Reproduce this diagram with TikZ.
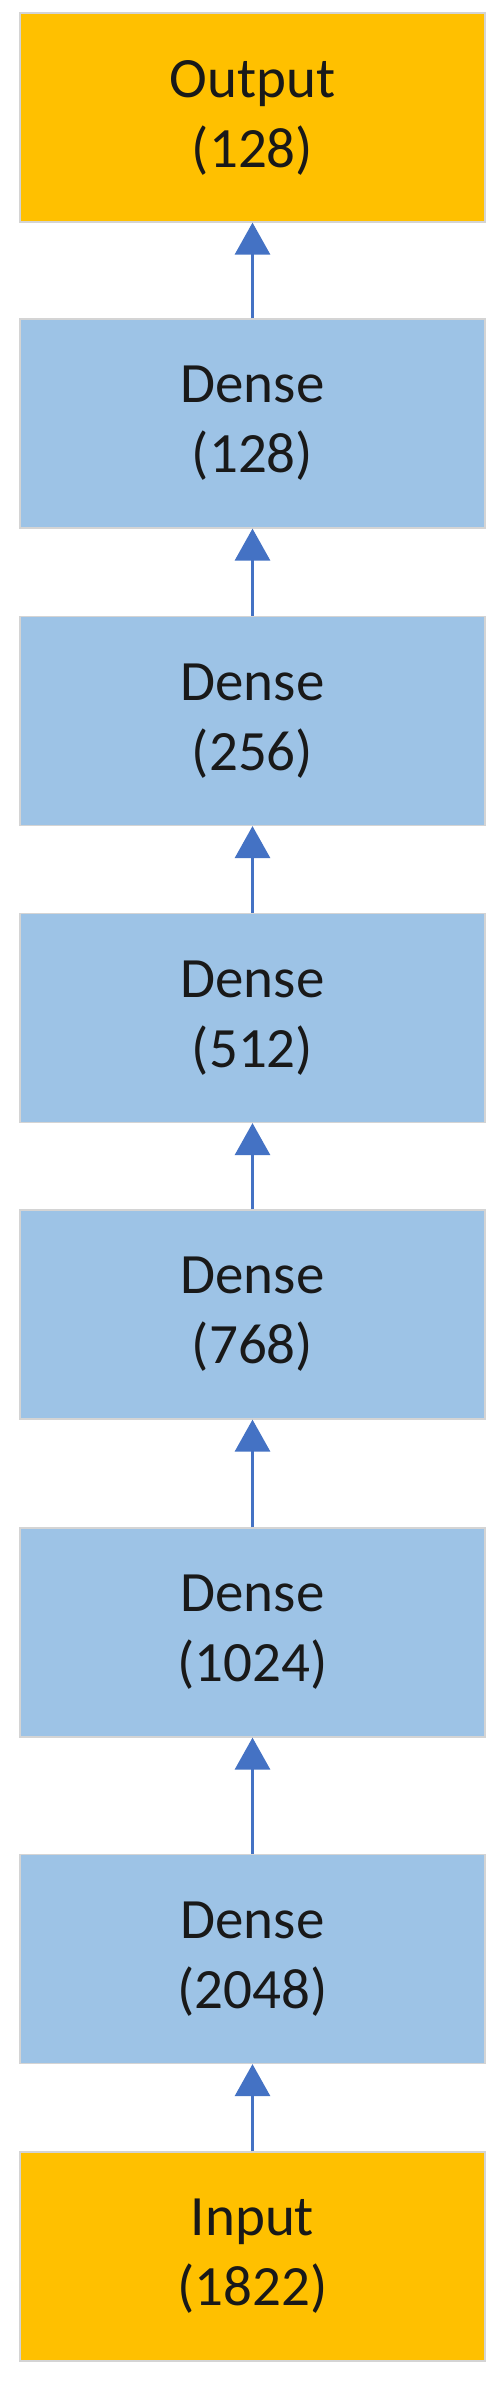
\documentclass[tikz,border=0pt]{standalone}
\usepackage{fontspec}
\setmainfont{Carlito}
\usetikzlibrary{arrows.meta}
\definecolor{gold}{HTML}{FFC000}
\definecolor{lblue}{HTML}{9DC3E6}
\definecolor{arrblue}{HTML}{4472C4}
\definecolor{edgegray}{HTML}{D4D4D4}
\tikzset{
  layer/.style={rectangle, draw=edgegray, line width=1.2pt, minimum width=465pt, minimum height=209pt, inner sep=0pt, align=center, font=\fontsize{57}{70}\selectfont, text=black!90},
  iobox/.style={layer, fill=gold},
  densebox/.style={layer, fill=lblue},
  flow/.style={draw=arrblue, line width=3pt, -{Triangle[width=35pt,length=32pt]}}
}
\begin{document}
\begin{tikzpicture}[x=1pt,y=-1pt]
\useasboundingbox (0,0) rectangle (502,2390);
\fill[white] (0,0) rectangle (502,2390);
\node[iobox]    (out) at (252.5,117.5)  {Output\\(128)};
\node[densebox] (d1)  at (252.5,423.5)  {Dense\\(128)};
\node[densebox] (d2)  at (252.5,721)    {Dense\\(256)};
\node[densebox] (d3)  at (252.5,1018)   {Dense\\(512)};
\node[densebox] (d4)  at (252.5,1314.5) {Dense\\(768)};
\node[densebox] (d5)  at (252.5,1632.5) {Dense\\(1024)};
\node[densebox] (d6)  at (252.5,1959)   {Dense\\(2048)};
\node[iobox]    (in)  at (252.5,2256.5) {Input\\(1822)};
\draw[flow] (in.north) -- (d6.south);
\draw[flow] (d6.north) -- (d5.south);
\draw[flow] (d5.north) -- (d4.south);
\draw[flow] (d4.north) -- (d3.south);
\draw[flow] (d3.north) -- (d2.south);
\draw[flow] (d2.north) -- (d1.south);
\draw[flow] (d1.north) -- (out.south);
\end{tikzpicture}
\end{document}
